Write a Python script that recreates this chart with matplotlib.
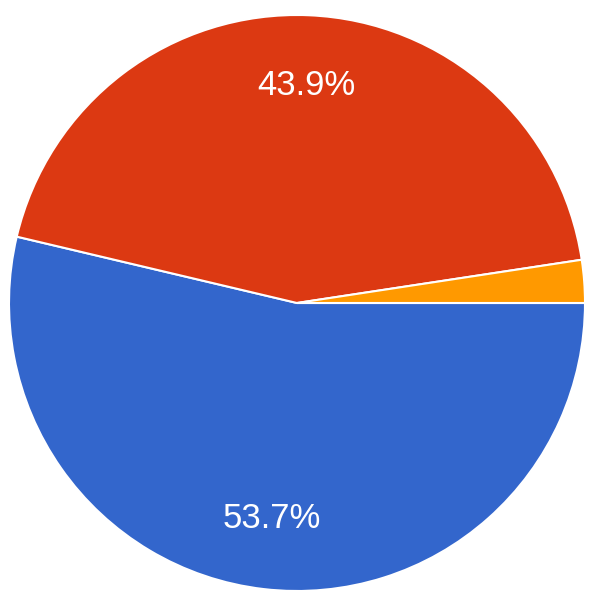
import matplotlib.pyplot as plt

plt.rcParams['font.family'] = ['Liberation Sans', 'DejaVu Sans']

# slice values (percent), clockwise from 3 o'clock
labels = ['Blue', 'Red', 'Orange']
values = [53.7, 43.9, 2.4]
colors = ['#3366cc', '#dc3912', '#ff9900']


def fmt_pct(p):
    # small slices get no label
    return '%.1f%%' % p if p >= 5 else ''


fig = plt.figure(figsize=(5.92, 6.08), dpi=100)
cx, cy, r = 297, 303, 288
ax = fig.add_axes([(cx - r) / 592, (608 - cy - r) / 608, 2 * r / 592, 2 * r / 608])

wedges, texts, autotexts = ax.pie(
    values, colors=colors, startangle=0, counterclock=False,
    autopct=fmt_pct, pctdistance=0.755,
    wedgeprops=dict(edgecolor='white', linewidth=1.5),
    textprops=dict(color='white', fontsize=25),
)
ax.set_xlim(-1, 1)
ax.set_ylim(-1, 1)
ax.axis('off')

fig.savefig('out.png', dpi=100)
